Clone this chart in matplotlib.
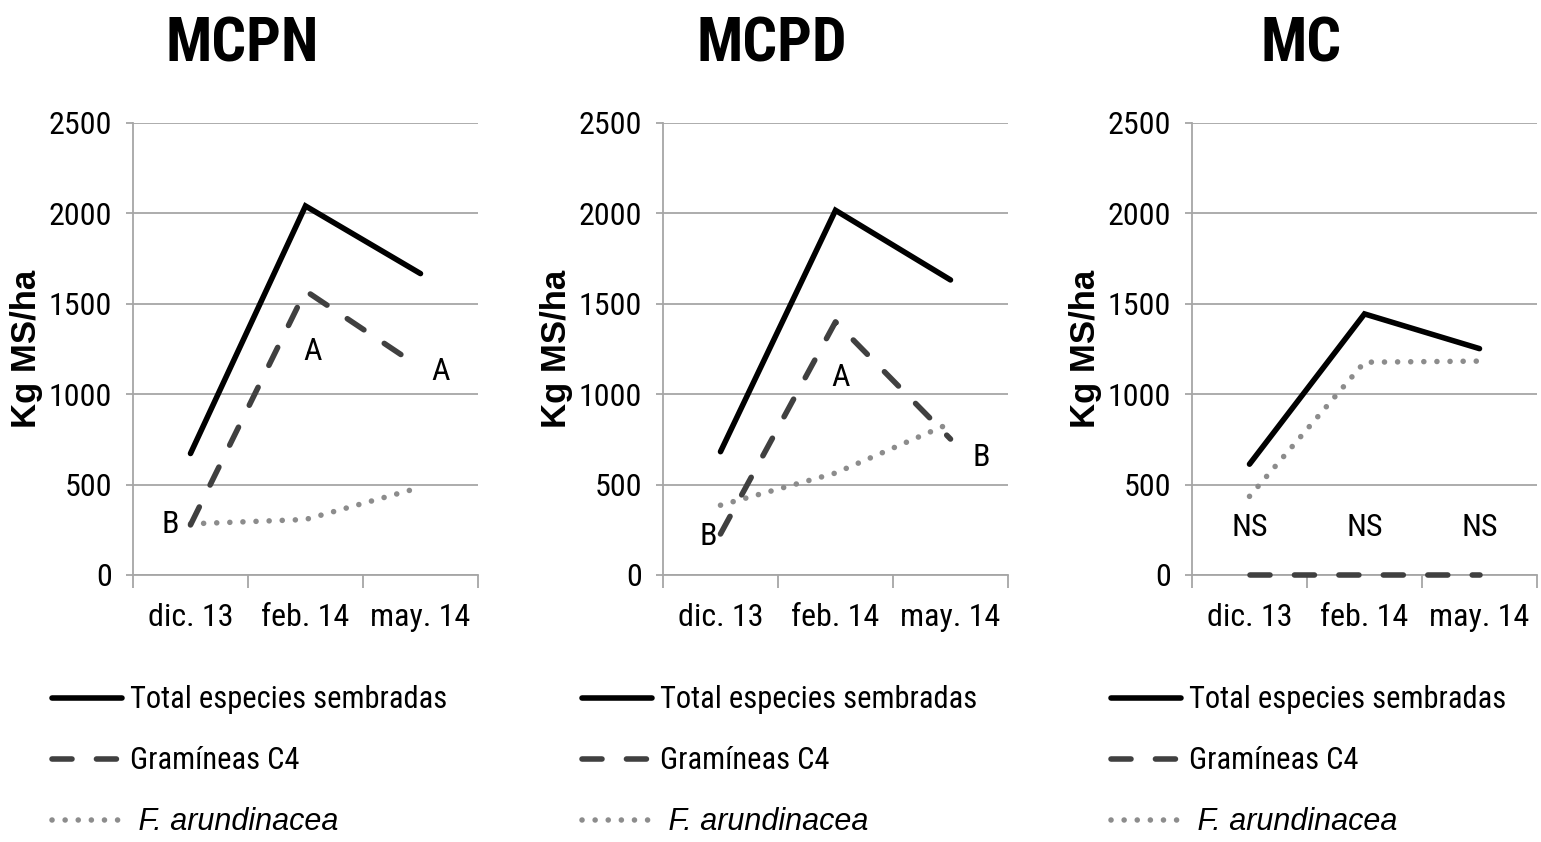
import matplotlib
matplotlib.use("Agg")
import matplotlib.pyplot as plt
from matplotlib.lines import Line2D
from matplotlib import font_manager as fm

# ---------------- data ----------------
categories = ['dic. 13', 'feb. 14', 'may. 14']
panel_titles = ['MCPN', 'MCPD', 'MC']

total_mcpn = [672, 2041, 1667]
gram_mcpn = [277, 1572, 1147]
fest_mcpn = [283, 307, 485]
sig_mcpn = ['B', 'A', 'A']

total_mcpd = [682, 2017, 1632]
gram_mcpd = [227, 1400, 752]
fest_mcpd = [386, 564, 840]
sig_mcpd = ['B', 'A', 'B']

total_mc = [613, 1444, 1252]
gram_mc = [0, 0, 0]
fest_mc = [435, 1177, 1183]
sig_mc = ['NS', 'NS', 'NS']

yticks = [0, 500, 1000, 1500, 2000, 2500]
ylabel = 'Kg MS/ha'
legend_labels = ['Total especies sembradas', 'Gramíneas C4', 'F. arundinacea']

# ---------------- style ----------------
names = {f.name for f in fm.fontManager.ttflist}
cond = [n for n in ['Liberation Sans Narrow', 'Roboto Condensed', 'Open Sans Condensed',
                    'DejaVu Sans Condensed'] if n in names]
if cond:
    NARROW = [cond[0], 'Liberation Sans', 'DejaVu Sans']
    scale = 1.0
else:
    NARROW = ['Liberation Sans', 'DejaVu Sans']
    scale = 0.84
REG = ['Liberation Sans', 'DejaVu Sans']
TICK_FS = 23 * scale
LEG_FS = 22 * scale
TITLE_FS = 44 if cond else 40
c_total = '#000000'
c_gram = '#404040'
c_fest = '#8c8c8c'
c_grid = '#a6a6a6'
LW = 4.0

# label offsets in pixels (dx, dy) for each panel and category
label_offsets = [
    [(-20, 0), (7, -61), (20, -4)],
    [(-12, -3), (5, -56), (31, -18)],
    [(0, 47), (0, 47), (0, 47)],
]

W, H = 1541, 842
fig = plt.figure(figsize=(W / 100, H / 100), dpi=100)

axes_left_px = [133, 663, 1192]
ax_w_px = 345
ax_top_px, ax_bot_px = 123, 575

panels = [
    (total_mcpn, gram_mcpn, fest_mcpn, sig_mcpn),
    (total_mcpd, gram_mcpd, fest_mcpd, sig_mcpd),
    (total_mc, gram_mc, fest_mc, sig_mc),
]

x = [1, 2, 3]
px2pt = 72 / 100

for i, (tot, gra, fes, sig) in enumerate(panels):
    left = axes_left_px[i] / W
    bottom = 1 - ax_bot_px / H
    ax = fig.add_axes([left, bottom, ax_w_px / W, (ax_bot_px - ax_top_px) / H])

    ax.set_xlim(0.5, 3.5)
    ax.set_ylim(0, 2500)

    l1, = ax.plot(x, tot, color=c_total, lw=LW, solid_capstyle='round',
                  solid_joinstyle='miter', zorder=5)
    l2, = ax.plot(x, gra, color=c_gram, lw=LW, dash_capstyle='round',
                  zorder=4, clip_on=False)
    l2.set_dashes((3.6, 4.4))
    l3, = ax.plot(x, fes, color=c_fest, lw=LW, dash_capstyle='round',
                  zorder=3)
    l3.set_dashes((0.01, 2.35))

    # significance letters
    for j in range(3):
        dx, dy = label_offsets[i][j]
        ax.annotate(sig[j], xy=(x[j], gra[j]), xytext=(dx * px2pt, dy * px2pt),
                    textcoords='offset points', ha='center', va='center',
                    fontsize=TICK_FS, family=NARROW, color='black', zorder=6)

    # axes styling
    for s in ['top', 'right']:
        ax.spines[s].set_visible(False)
    ax.spines['left'].set_color(c_grid)
    ax.spines['bottom'].set_color(c_grid)
    ax.spines['left'].set_linewidth(1.3)
    ax.spines['bottom'].set_linewidth(1.3)
    ax.set_yticks(yticks)
    ax.set_yticklabels([str(v) for v in yticks], family=NARROW, fontsize=TICK_FS)
    ax.yaxis.grid(True, color=c_grid, lw=1.3)
    ax.set_axisbelow(True)
    ax.tick_params(axis='y', length=5, width=1.3, color=c_grid, pad=10)

    ax.set_xticks(x)
    ax.set_xticklabels(categories, family=NARROW, fontsize=TICK_FS)
    ax.set_xticks([0.5, 1.5, 2.5, 3.5], minor=True)
    ax.tick_params(axis='x', which='major', length=0, pad=20)
    ax.tick_params(axis='x', which='minor', length=9, width=1.3, color=c_grid)

    ax.set_ylabel(ylabel, family=REG, fontweight='bold', fontsize=25)
    ax.yaxis.set_label_coords(-0.26, 0.5)

    ax.text(0.316, 1.135, panel_titles[i], transform=ax.transAxes,
            ha='center', va='baseline', fontsize=TITLE_FS,
            fontweight='bold', family=NARROW)

    # legend
    handles = [
        Line2D([], [], color=c_total, lw=LW, solid_capstyle='round'),
        Line2D([], [], color=c_gram, lw=LW, dash_capstyle='round', dashes=(3.6, 4.4)),
        Line2D([], [], color=c_fest, lw=LW, dash_capstyle='round', dashes=(0.01, 2.35)),
    ]
    leg = ax.legend(handles, legend_labels, loc='upper left',
                    bbox_to_anchor=(-0.235, -0.244), frameon=False,
                    prop={'family': NARROW, 'size': LEG_FS},
                    handlelength=2.2 * 23 / LEG_FS, handletextpad=0.25,
                    labelspacing=1.05 if cond else 1.25,
                    borderpad=0, borderaxespad=0)
    t3 = leg.get_texts()[2]
    t3.set_fontfamily(REG)
    t3.set_fontstyle('italic')
    t3.set_fontsize(22)
    t3.set_text(' ' + legend_labels[2])

fig.savefig('out.png', dpi=100)
